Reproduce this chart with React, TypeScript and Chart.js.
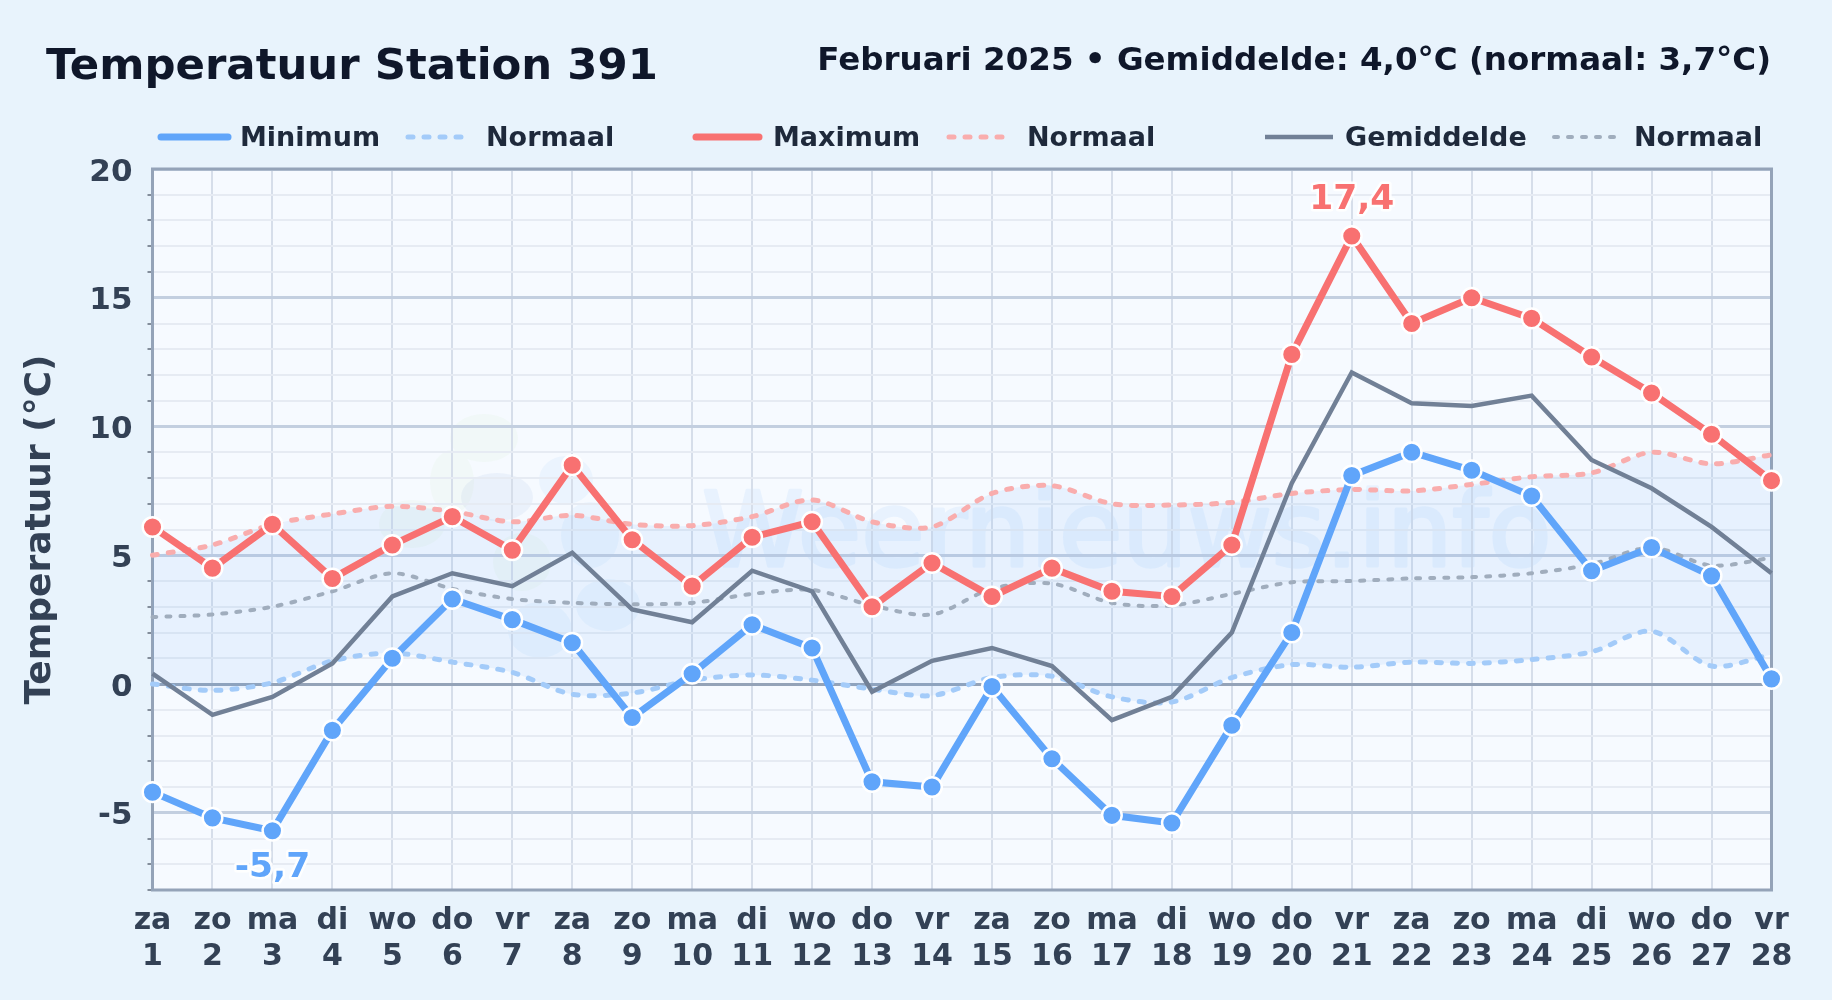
import React, { useEffect, useRef } from "react";
import { Chart, registerables } from "chart.js";

Chart.register(...registerables);

const weekdays = ["za","zo","ma","di","wo","do","vr","za","zo","ma","di","wo","do","vr","za","zo","ma","di","wo","do","vr","za","zo","ma","di","wo","do","vr"];
const days = ["1","2","3","4","5","6","7","8","9","10","11","12","13","14","15","16","17","18","19","20","21","22","23","24","25","26","27","28"];
const minimum = [-4.2,-5.2,-5.7,-1.8,1.0,3.3,2.5,1.6,-1.3,0.4,2.3,1.4,-3.8,-4.0,-0.1,-2.9,-5.1,-5.4,-1.6,2.0,8.1,9.0,8.3,7.3,4.4,5.3,4.2,0.2];
const maximum = [6.1,4.5,6.2,4.1,5.4,6.5,5.2,8.5,5.6,3.8,5.7,6.3,3.0,4.7,3.4,4.5,3.6,3.4,5.4,12.8,17.4,14.0,15.0,14.2,12.7,11.3,9.7,7.9];
const mean = [0.4,-1.2,-0.5,0.8,3.4,4.3,3.8,5.1,2.9,2.4,4.4,3.6,-0.3,0.9,1.4,0.7,-1.4,-0.5,2.0,7.8,12.1,10.9,10.8,11.2,8.7,7.6,6.1,4.3];
const normalMin = [0.0,-0.25,0.05,0.9,1.2,0.85,0.45,-0.4,-0.35,0.15,0.35,0.15,-0.2,-0.45,0.25,0.3,-0.5,-0.7,0.25,0.75,0.65,0.85,0.8,0.95,1.25,2.05,0.7,1.15];
const normalMax = [5.0,5.4,6.2,6.6,6.9,6.7,6.3,6.55,6.2,6.15,6.5,7.15,6.3,6.1,7.4,7.7,7.0,6.95,7.05,7.4,7.55,7.5,7.75,8.05,8.2,9.0,8.55,8.9];
const normalMean = [2.6,2.7,3.0,3.6,4.3,3.7,3.3,3.15,3.1,3.15,3.5,3.65,3.05,2.7,3.7,3.9,3.15,3.05,3.5,3.95,4.0,4.1,4.15,4.3,4.65,5.3,4.6,4.9];

const titleText = "Temperatuur Station 391";
const subtitleText = "Februari 2025 • Gemiddelde: 4,0°C (normaal: 3,7°C)";
const yTitle = "Temperatuur (°C)";
const watermarkText = "Weernieuws.info";

const FONT = '"DejaVu Sans"';
const BLUE = "#60a5fa";
const RED = "#f87171";
const GREY = "#718096";
const BLUE_N = "#a3cbf9";
const RED_N = "#f9adad";
const GREY_N = "#a0adbd";

const legendItems = [
  { label: "Minimum", color: BLUE, width: 7, dash: [], x0: 161, x1: 228, tx: 240 },
  { label: "Normaal", color: BLUE_N, width: 5, dash: [5, 11], x0: 408, x1: 464, tx: 486 },
  { label: "Maximum", color: RED, width: 7, dash: [], x0: 696, x1: 759, tx: 773 },
  { label: "Normaal", color: RED_N, width: 5, dash: [5, 11], x0: 949, x1: 1004, tx: 1027 },
  { label: "Gemiddelde", color: GREY, width: 4.5, dash: [], x0: 1265, x1: 1333, tx: 1345 },
  { label: "Normaal", color: GREY_N, width: 4, dash: [4, 10], x0: 1554, x1: 1619, tx: 1634 },
];

const blobGroups = [
  { color: "rgba(190,225,150,0.07)", parts: [[484, 438, 34, 24], [452, 482, 22, 32], [412, 524, 33, 24], [522, 562, 29, 29]] },
  { color: "rgba(120,160,215,0.09)", parts: [[497, 497, 36, 24]] },
  { color: "rgba(110,180,240,0.08)", parts: [[566, 480, 27, 24], [590, 535, 29, 33], [540, 630, 32, 28], [608, 605, 32, 26]] },
];

const backdrop = {
  id: "backdrop",
  beforeDraw(chart: any) {
    const { ctx, chartArea: a, width, height } = chart;
    ctx.save();
    ctx.fillStyle = "#e8f3fc";
    ctx.fillRect(0, 0, width, height);
    ctx.fillStyle = "#f6faff";
    ctx.fillRect(a.left, a.top, a.right - a.left, a.bottom - a.top);
    for (const g of blobGroups) {
      ctx.fillStyle = g.color;
      ctx.beginPath();
      for (const [x, y, rx, ry] of g.parts) {
        ctx.moveTo(x + rx, y);
        ctx.ellipse(x, y, rx, ry, 0, 0, Math.PI * 2);
      }
      ctx.fill();
    }
    const off = document.createElement("canvas");
    off.width = width;
    off.height = height;
    const o = off.getContext("2d") as CanvasRenderingContext2D;
    o.fillStyle = "#60a5fa";
    o.strokeStyle = "#60a5fa";
    o.lineWidth = 3.5;
    o.lineJoin = "round";
    o.font = `103px ${FONT}`;
    o.textBaseline = "alphabetic";
    o.textAlign = "left";
    o.fillText(watermarkText, 702, 566);
    o.strokeText(watermarkText, 702, 566);
    ctx.globalAlpha = 0.085;
    ctx.drawImage(off, 0, 0);
    ctx.restore();
  },
};

const frame = {
  id: "frame",
  beforeDatasetsDraw(chart: any) {
    const { ctx, chartArea: a } = chart;
    ctx.save();
    ctx.strokeStyle = "#94a3b8";
    ctx.lineWidth = 3;
    ctx.strokeRect(a.left, a.top, a.right - a.left, a.bottom - a.top);
    ctx.restore();
  },
};

const texts = {
  id: "texts",
  afterDraw(chart: any) {
    const { ctx, scales } = chart;
    ctx.save();
    ctx.textBaseline = "alphabetic";
    ctx.textAlign = "left";
    ctx.fillStyle = "#0f172a";
    ctx.font = `bold 43.4px ${FONT}`;
    ctx.fillText(titleText, 46, 79);
    ctx.textAlign = "right";
    ctx.font = `bold 32.5px ${FONT}`;
    ctx.fillText(subtitleText, 1771, 70);
    ctx.textAlign = "left";
    ctx.font = `bold 27px ${FONT}`;
    for (const it of legendItems) {
      ctx.beginPath();
      ctx.strokeStyle = it.color;
      ctx.lineWidth = it.width;
      ctx.lineCap = it.dash.length || it.width === 7 ? "round" : "butt";
      ctx.setLineDash(it.dash);
      ctx.moveTo(it.x0, 137);
      ctx.lineTo(it.x1, 137);
      ctx.stroke();
      ctx.setLineDash([]);
      ctx.fillStyle = "#1e293b";
      ctx.fillText(it.label, it.tx, 146);
    }
    const hi = maximum.indexOf(Math.max(...maximum));
    const lo = minimum.indexOf(Math.min(...minimum));
    const notes = [
      { v: maximum[hi], i: hi, color: RED, dy: -27 },
      { v: minimum[lo], i: lo, color: BLUE, dy: 46 },
    ];
    ctx.textAlign = "center";
    ctx.font = `bold 34.5px ${FONT}`;
    ctx.lineJoin = "round";
    for (const n of notes) {
      const x = scales.x.getPixelForValue(n.i);
      const y = scales.y.getPixelForValue(n.v) + n.dy;
      const s = String(n.v).replace(".", ",");
      ctx.strokeStyle = "rgba(255,255,255,0.9)";
      ctx.lineWidth = 5;
      ctx.strokeText(s, x, y);
      ctx.fillStyle = n.color;
      ctx.fillText(s, x, y);
    }
    ctx.restore();
  },
};

function line(label: string, data: number[], color: string, order: number, extra: any = {}) {
  return { label, data, borderColor: color, backgroundColor: color, order, clip: false, pointRadius: 0, tension: 0, ...extra };
}

const dashed = (width: number, dash: number[]) => ({
  borderWidth: width,
  borderDash: dash,
  borderCapStyle: "round",
  tension: 0.3,
});
const marked = (color: string) => ({
  borderWidth: 7,
  pointRadius: 9.8,
  pointBorderWidth: 2.5,
  pointBackgroundColor: color,
  pointBorderColor: "#ffffff",
  pointHoverRadius: 9.8,
});

export default function App() {
  const ref = useRef<HTMLCanvasElement | null>(null);
  useEffect(() => {
    document.body.style.margin = "0";
    const chart = new Chart(ref.current as HTMLCanvasElement, {
      type: "line",
      data: {
        labels: weekdays.map((d, i) => [d, days[i]]),
        datasets: [
          line("Minimum", minimum, BLUE, 1, marked(BLUE)),
          line("Normaal", normalMin, BLUE_N, 5, dashed(5, [5, 11])),
          line("Maximum", maximum, RED, 2, marked(RED)),
          line("Normaal", normalMax, RED_N, 6, {
            ...dashed(5, [5, 11]),
            fill: { target: 1 },
            backgroundColor: "rgba(96,165,250,0.10)",
          }),
          line("Gemiddelde", mean, GREY, 3, { borderWidth: 4.5 }),
          line("Normaal", normalMean, GREY_N, 4, dashed(4, [4, 10])),
        ],
      } as any,
      plugins: [backdrop, frame, texts],
      options: {
        responsive: false,
        animation: false,
        devicePixelRatio: 1,
        layout: { padding: { top: 169, right: 60.5, bottom: 0, left: 0 } },
        plugins: { legend: { display: false }, title: { display: false }, tooltip: { enabled: false } },
        scales: {
          x: {
            offset: false,
            afterFit: (s: any) => { s.height = 110; },
            border: { display: false },
            grid: { color: "#d6deea", lineWidth: 2, drawTicks: false },
            ticks: {
              autoSkip: false,
              maxRotation: 0,
              padding: 13,
              color: "#334155",
              font: { family: FONT, size: 30, weight: "bold" },
            },
          },
          y: {
            min: -8,
            max: 20,
            afterFit: (s: any) => { s.width = 152.5; },
            border: { display: false },
            title: {
              display: true,
              text: yTitle,
              color: "#334155",
              padding: { top: 19, bottom: 0 },
              font: { family: FONT, size: 36, weight: "bold" },
            },
            grid: {
              color: (c: any) => (c.tick.value === 0 ? "#94a3b8" : c.tick.value % 5 === 0 ? "#c3cfe0" : "#e6ebf3"),
              lineWidth: (c: any) => (c.tick.value === 0 ? 3 : c.tick.value % 5 === 0 ? 3 : 2),
              tickColor: (c: any) => (c.tick.value % 5 === 0 ? "transparent" : "#1e293b"),
              tickWidth: 1,
              tickLength: 5,
            },
            ticks: {
              stepSize: 1,
              autoSkip: false,
              padding: 15,
              labelOffset: 3.5,
              color: "#334155",
              font: { family: FONT, size: 31, weight: "bold" },
              callback: (v: any) => (Number(v) % 5 === 0 && Number(v) !== -8 ? String(v) : ""),
            },
          },
        },
      },
    } as any);
    return () => chart.destroy();
  }, []);
  return <canvas ref={ref} width={1832} height={1000} style={{ display: "block", width: 1832, height: 1000 }} />;
}
